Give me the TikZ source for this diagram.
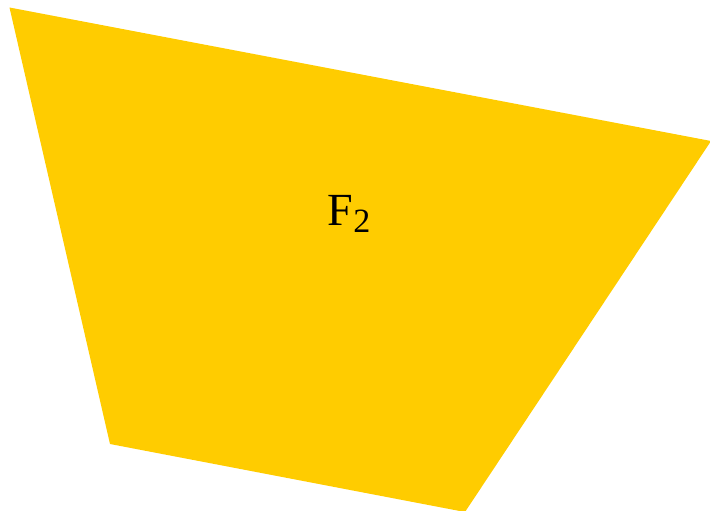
\documentclass[tikz,border=0pt]{standalone}
\usepackage{fontspec}
\setmainfont{Liberation Serif}
\usepackage{tikz}

\definecolor{faceyellow}{HTML}{FFCC00}
\newcommand{\facesub}[1]{\raisebox{-7pt}{\fontsize{34}{40}\selectfont #1}}

\begin{document}
\begin{tikzpicture}[x=1pt, y=-1pt, every node/.style={font=\fontsize{46}{52}\selectfont}, face/.style={fill=faceyellow, draw=none}]
	\useasboundingbox (0,0) rectangle (710,511);
	\fill[face] (9.5,7.5) -- (711,141) -- (465,512) -- (110,444) -- cycle;
	\node[anchor=base] (f2) at (349,225) {F\facesub{2}};
\end{tikzpicture}
\end{document}
